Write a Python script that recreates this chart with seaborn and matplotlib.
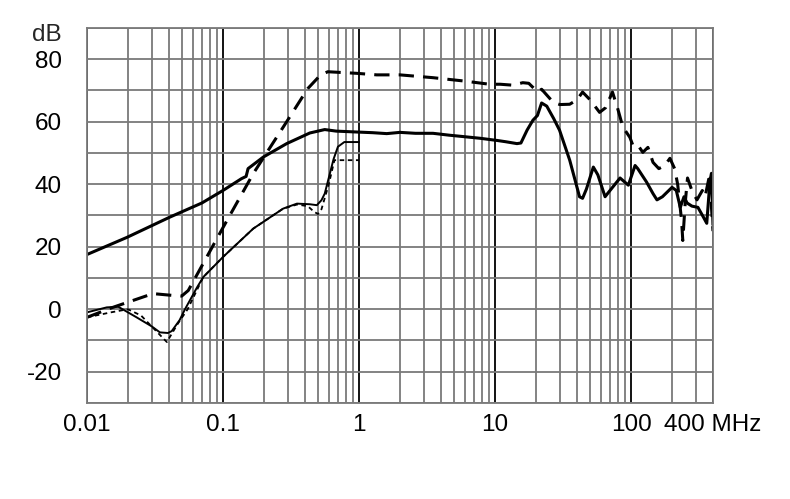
import numpy as np
import pandas as pd
import matplotlib
matplotlib.use("Agg")
import matplotlib.pyplot as plt
import matplotlib.ticker as mticker
import seaborn as sns

# --- curve data (MHz, dB) ---
# thick solid
freq_a = [0.01, 0.0197, 0.0408, 0.07, 0.1, 0.137, 0.148, 0.153, 0.198, 0.294, 0.435, 0.56, 0.68,
          0.98, 1.26, 1.6, 2.0, 2.6, 3.5, 4.6, 6.0, 7.8, 10.4, 12.0, 14.5, 15.5, 17.2, 19.0, 20.5,
          22.0, 24.0, 27.0, 29.8, 35.4, 41.8, 44.0, 47.0, 52.8, 57.0, 64.4, 70.0, 83.0, 95.5,
          107, 112, 120, 130, 145, 155, 170, 200, 215, 230, 245, 258, 280, 310, 340, 360,
          380, 390, 400]
db_a = [17.5, 23.0, 29.5, 34.0, 38.0, 41.8, 42.5, 45.0, 48.7, 53.0, 56.4, 57.5, 57.0,
        56.7, 56.5, 56.2, 56.6, 56.3, 56.3, 55.7, 55.2, 54.7, 54.0, 53.6, 53.0, 53.2, 57.3, 60.5, 62.0,
        66.0, 65.0, 61.0, 57.3, 47.7, 36.0, 35.5, 38.5, 45.5, 43.0, 36.0, 38.0, 42.0, 39.7,
        46.0, 45.0, 43.0, 40.7, 37.0, 35.0, 36.0, 39.0, 38.0, 32.6, 36.0, 34.0, 33.0, 32.6, 29.5, 27.5,
        41.0, 43.5, 27.0]

# thick dashed
freq_b = [0.01, 0.0155, 0.0306, 0.0408, 0.0497, 0.0556, 0.1006, 0.167, 0.294, 0.42, 0.52, 0.59,
          0.96, 1.35, 2.0, 3.5, 6.0, 9.1, 10.9, 13.5, 16.0, 17.7, 20.6, 22.0, 26.8, 30.0, 35.4,
          40.0, 44.0, 50.0, 58.7, 65.0, 73.0, 80.0, 87.0, 98.0, 103, 111, 122, 133, 145, 160,
          177, 193, 209, 220, 235, 240, 250, 260, 280, 305, 334, 350, 380, 390, 400]
db_b = [-2.6, 0.6, 5.0, 4.5, 4.2, 6.0, 26.3, 43.4, 60.0, 70.6, 74.9, 76.0,
        75.5, 75.0, 75.0, 74.1, 73.0, 72.0, 72.0, 71.7, 72.5, 72.3, 69.5, 70.4, 66.2, 65.5, 65.6,
        67.0, 69.5, 67.0, 63.0, 64.5, 69.5, 64.0, 58.3, 55.0, 52.5, 52.8, 50.2, 51.8, 47.0, 45.0,
        46.0, 48.3, 45.0, 40.0, 28.5, 22.0, 34.0, 42.0, 38.0, 35.0, 38.0, 36.0, 43.5, 32.6, 25.0]

# thin solid
freq_c = [0.01, 0.014, 0.017, 0.023, 0.03, 0.0344, 0.0394, 0.042, 0.048, 0.0526, 0.0645, 0.0717,
          0.1, 0.167, 0.277, 0.35, 0.435, 0.49, 0.53, 0.56, 0.65, 0.7, 0.78, 1.0]
db_c = [-1.0, 0.6, 0.8, -2.5, -5.5, -7.4, -7.6, -7.0, -3.5, 0.0, 7.0, 10.3,
        16.7, 25.8, 32.2, 33.8, 33.6, 33.3, 34.9, 37.0, 48.0, 52.0, 53.5, 53.5]

# thin short-dashed
freq_d = [0.01, 0.015, 0.02, 0.025, 0.0387, 0.046, 0.055, 0.0717, 0.1, 0.167, 0.277, 0.35,
          0.42, 0.47, 0.5, 0.53, 0.6, 0.66, 1.0]
db_d = [-2.6, -1.0, 0.0, -2.0, -10.5, -5.0, 0.0, 10.3, 16.7, 25.8, 32.2, 33.5,
        33.0, 31.1, 30.5, 32.0, 40.0, 47.7, 47.7]

x_ticks = [0.01, 0.1, 1, 10, 100, 400]
x_labels = ["0.01", "0.1", "1", "10", "100", "400 MHz"]
y_ticks = [-20, 0, 20, 40, 60, 80]
y_labels = ["-20", "0", "20", "40", "60", "80"]

sns.set_style("white")
plt.rcParams["font.family"] = ["Liberation Sans", "DejaVu Sans"]

fig = plt.figure(figsize=(7.9, 4.99), dpi=100)
ax = fig.add_axes([0.110, 0.1924, 0.7925, 0.7515])

sns.lineplot(x=freq_a, y=db_a, ax=ax, color="black", linewidth=2.2, estimator=None, sort=False)
sns.lineplot(x=freq_b, y=db_b, ax=ax, color="black", linewidth=2.2, estimator=None, sort=False,
             linestyle=(0, (5.0, 3.0)))
sns.lineplot(x=freq_c, y=db_c, ax=ax, color="black", linewidth=1.4, estimator=None, sort=False)
sns.lineplot(x=freq_d, y=db_d, ax=ax, color="black", linewidth=1.3, estimator=None, sort=False,
             linestyle=(0, (2.5, 2.0)))

ax.set_xscale("log")
ax.set_xlim(0.01, 400)
ax.set_ylim(-30, 90)

ax.set_xticks(x_ticks)
ax.set_xticklabels(x_labels)
ax.xaxis.set_minor_locator(mticker.LogLocator(base=10, subs=np.arange(2, 10)))
ax.xaxis.set_minor_formatter(mticker.NullFormatter())
ax.set_yticks(y_ticks)
ax.set_yticklabels(y_labels)
ax.yaxis.set_minor_locator(mticker.FixedLocator(np.arange(-30, 91, 20)))

ax.set_axisbelow(True)
ax.grid(axis="x", which="major", color="black", linewidth=1.3)
ax.grid(axis="x", which="minor", color="#7a7a7a", linewidth=1.3)
ax.grid(axis="y", which="both", color="#7a7a7a", linewidth=1.3)

ax.tick_params(axis="both", which="both", length=0, labelsize=17.5, colors="black")
ax.tick_params(axis="x", pad=8)
ax.tick_params(axis="y", pad=18)
for s in ax.spines.values():
    s.set_color("#7a7a7a")
    s.set_linewidth(1.3)

ax.text(-0.04, 87.8, "dB", transform=ax.get_yaxis_transform(), ha="right", va="center",
        fontsize=17.5)
ax.set_xlabel("")
ax.set_ylabel("")

fig.savefig("out.png", dpi=100)
